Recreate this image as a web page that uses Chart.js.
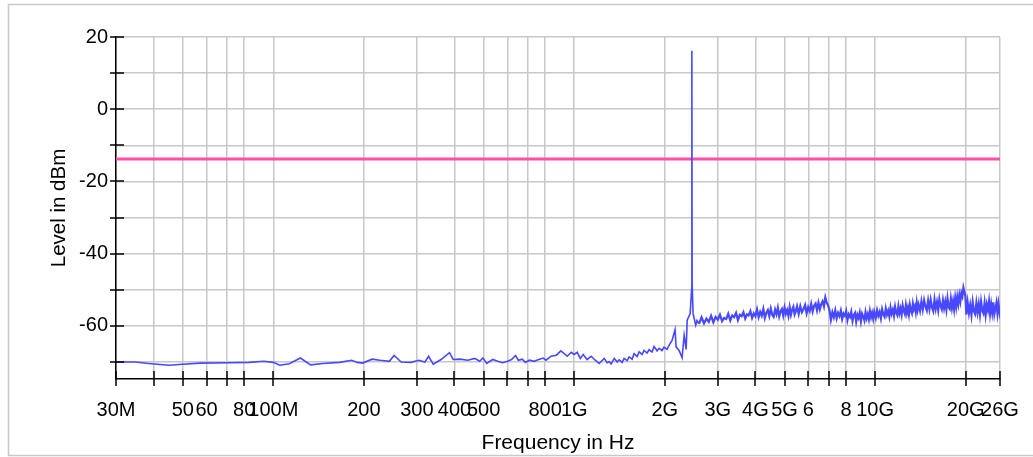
<!DOCTYPE html>
<html>
<head>
<meta charset="utf-8">
<script src="https://cdn.jsdelivr.net/npm/chart.js@4/dist/chart.umd.min.js"></script>
<style>
  html, body { margin: 0; padding: 0; background: #fff; }
  canvas { display: block; }
</style>
</head>
<body>
<canvas id="spectre" width="1033" height="457"></canvas>
<script>
// ── COULEURS ──────────────────────────────────────
const COULEURS = {
  trace:  '#4848ff',
  limite: '#ff4fa7',
  grille: '#c8c8c8',
  cadre:  '#c8c8c8',
  texte:  '#000000'
};
const POLICE = "'Liberation Sans', Arial, Helvetica, sans-serif";

// ── DONNÉES ───────────────────────────────────────
// Balayage bas : 30 MHz → 2,6 GHz (en MHz), avec la porteuse à ~2,46 GHz
const frequencesBasMHz = [
  30, 34.7, 38.5, 44.9, 50, 57, 72, 83, 93, 100, 105, 113, 123, 133, 146, 166, 182, 190, 198, 213,
  226, 243, 252, 266, 287, 304, 319, 328, 340, 361, 385, 396, 417, 443, 467, 485, 497, 512, 536, 557,
  578, 600, 619, 638, 652, 672, 688, 709, 736, 758, 788, 806, 837, 872, 903, 948, 977, 1000, 1023, 1047,
  1071, 1104, 1139, 1174, 1210,
  1258, 1287, 1307, 1327, 1358, 1389, 1410, 1443, 1465, 1499, 1522, 1557, 1581, 1618, 1643, 1681, 1706, 1746, 1773, 1814,
  1842, 1885, 1914, 1958, 1988, 2034, 2066, 2114, 2163, 2180, 2231, 2283, 2319, 2355, 2373, 2428, 2455, 2460, 2465, 2483,
  2534, 2558, 2598
];
const niveauxBasDbm = [
  -70.0, -70.0, -70.4, -70.9, -70.6, -70.3, -70.2, -70.1, -69.8, -70.1, -70.9, -70.5, -68.9, -70.8, -70.4, -70.1, -69.5, -70.1, -70.3, -69.2,
  -69.5, -69.8, -68.2, -70.0, -70.1, -69.5, -70.0, -68.4, -70.6, -69.3, -67.4, -69.3, -69.2, -69.5, -69.0, -69.8, -68.9, -70.4, -69.3, -69.8,
  -70.2, -69.8, -69.3, -68.2, -69.5, -69.2, -70.1, -69.5, -69.8, -69.4, -68.9, -69.5, -68.4, -68.1, -66.9, -68.4, -67.3, -67.9, -67.3, -69.0,
  -67.9, -69.3, -68.4, -69.5, -70.4,
  -69.0, -70.2, -69.9, -70.5, -69.0, -70.0, -69.4, -70.1, -69.0, -69.6, -68.6, -69.2, -67.7, -68.5, -67.2, -67.9, -66.8, -67.5, -66.6, -67.2,
  -65.7, -66.9, -66.2, -66.8, -65.9, -66.5, -65.4, -64.0, -61.0, -65.8, -66.8, -68.8, -62.6, -66.5, -58.4, -56.6, -50.0, 16.2, -48.0, -56.6,
  -59.8, -58.5, -59.4
];

// Balayage haut : 2,65 GHz → 26 GHz (en GHz), bruit de fond
const frequencesHautGHz = [
  2.65, 2.70, 2.75, 2.80, 2.85, 2.90, 2.95, 3.00, 3.05, 3.10, 3.15, 3.20, 3.25, 3.30, 3.35, 3.40, 3.45, 3.50, 3.55, 3.60,
  3.65, 3.70, 3.75, 3.80, 3.85, 3.90, 3.95, 4.00,
  4.05, 4.10, 4.15, 4.20, 4.25, 4.30, 4.35, 4.40, 4.45, 4.50, 4.55, 4.60, 4.65, 4.70, 4.75, 4.80, 4.85, 4.90, 4.95, 5.00,
  5.05, 5.10, 5.15, 5.20, 5.25, 5.30, 5.35, 5.40, 5.45, 5.50,
  5.57, 5.64, 5.71, 5.78, 5.85, 5.92, 5.99, 6.06, 6.13, 6.20, 6.27, 6.34, 6.41, 6.48, 6.55, 6.62, 6.69, 6.76, 6.83, 6.90, 6.97,
  7.05, 7.13, 7.21, 7.29, 7.37, 7.45, 7.53, 7.61, 7.69, 7.77, 7.85, 7.93, 8.01, 8.09, 8.17, 8.25, 8.33, 8.41, 8.49, 8.57,
  8.65, 8.73, 8.81, 8.89, 8.97, 9.05, 9.13, 9.21, 9.29, 9.37, 9.45, 9.53, 9.61, 9.69, 9.77, 9.85, 9.93,
  10.05, 10.15, 10.25, 10.35, 10.45, 10.55, 10.65, 10.75, 10.85, 10.95, 11.05, 11.15, 11.25, 11.35, 11.45, 11.55, 11.65, 11.75, 11.85, 11.95,
  12.05, 12.15, 12.25, 12.35, 12.45, 12.55, 12.65, 12.75, 12.85, 12.95, 13.05, 13.15, 13.25, 13.35, 13.45, 13.55, 13.65, 13.75, 13.85, 13.95,
  14.10, 14.25, 14.40, 14.55, 14.70, 14.85, 15.00, 15.15, 15.30, 15.45, 15.60, 15.75, 15.90, 16.05, 16.20, 16.35, 16.50, 16.65, 16.80, 16.95,
  17.10, 17.25, 17.40, 17.55, 17.70, 17.85, 18.00, 18.15, 18.30, 18.45, 18.60, 18.75, 18.90, 19.05, 19.20, 19.35, 19.50, 19.65, 19.80, 19.95,
  20.1, 20.3, 20.5, 20.7, 20.9, 21.1, 21.3, 21.5, 21.7, 21.9, 22.1, 22.3, 22.5, 22.7, 22.9, 23.1, 23.3, 23.5, 23.7, 23.9,
  24.1, 24.3, 24.5, 24.7, 24.9, 25.1, 25.3, 25.5, 25.7, 25.9, 26.0
];
const niveauxHautDbm = [
  -57.6, -59.3, -58.0, -58.9, -57.2, -59.0, -57.5, -58.3, -56.9, -58.7, -57.8, -58.1, -56.6, -58.5, -57.1, -57.6, -56.4, -58.4, -56.9, -57.3,
  -56.2, -58.0, -56.8, -57.1, -55.9, -57.8, -56.5, -57.3,
  -55.4, -57.6, -56.1, -57.2, -55.3, -57.8, -56.4, -55.6, -57.3, -55.2, -56.9, -57.5, -55.5, -56.8, -55.0, -57.4, -56.0, -55.3, -57.1, -54.9,
  -56.6, -55.6, -57.2, -54.8, -56.9, -55.5, -54.7, -56.8, -55.9, -54.6,
  -56.7, -54.5, -56.2, -55.3, -54.2, -56.5, -54.8, -55.9, -53.9, -56.0, -54.4, -53.8, -55.7, -53.6, -55.4, -54.0, -53.2, -54.6, -52.1, -53.5, -54.2,
  -55.6, -58.3, -56.2, -57.6, -55.7, -57.9, -56.4, -57.3, -55.8, -58.1, -56.6, -57.2, -55.9, -58.4, -56.8, -57.5, -56.1, -58.6, -57.0, -56.4,
  -58.8, -56.9, -57.8, -56.3, -58.7, -56.6, -57.4, -58.5, -56.2, -57.9, -56.8, -58.2, -55.9, -57.6, -56.4, -58.0, -56.1,
  -57.8, -55.7, -57.2, -56.1, -57.9, -55.4, -56.8, -57.5, -55.2, -56.9, -55.8, -57.4, -54.9, -56.6, -55.5, -57.2, -54.7, -56.3, -57.0, -54.6,
  -56.5, -55.2, -56.9, -54.4, -55.8, -56.7, -54.3, -56.4, -55.0, -56.8, -54.2, -55.7, -56.5, -53.9, -55.4, -54.6, -56.2, -53.6, -55.5, -54.1,
  -55.8, -53.2, -55.5, -52.9, -54.6, -55.7, -53.0, -55.3, -52.8, -54.9, -55.9, -52.7, -55.2, -53.4, -55.6, -52.6, -54.5, -55.4, -52.9, -55.1,
  -53.3, -55.5, -52.4, -54.8, -55.3, -52.5, -55.0, -53.1, -55.4, -52.3, -54.6, -52.0, -53.9, -51.5, -53.2, -50.9, -51.8, -49.4, -50.6, -51.7,
  -56.9, -53.5, -56.4, -54.2, -57.0, -53.4, -55.9, -56.7, -53.6, -56.2, -53.9, -56.8, -53.3, -55.7, -56.5, -53.7, -56.9, -54.1, -55.6, -53.2,
  -56.6, -54.0, -56.3, -53.5, -56.8, -55.2, -53.6, -56.5, -53.9, -56.1, -55.0
];

// Ligne limite (dBm)
const limiteDbm = -13.8;

// Graduations
const ticksXHz = [
  30e6, 40e6, 50e6, 60e6, 70e6, 80e6, 100e6, 200e6, 300e6, 400e6, 500e6, 600e6, 700e6, 800e6,
  1e9, 2e9, 3e9, 4e9, 5e9, 6e9, 7e9, 8e9, 10e9, 20e9, 26e9
];
const etiquettesX = [
  '30M', '', '50', '60', '', '80', '100M', '200', '300', '400', '500', '', '', '800',
  '1G', '2G', '3G', '4G', '5G', '6', '', '8', '10G', '20G', '26G'
];
const ticksYDbm   = [-70, -60, -50, -40, -30, -20, -10, 0, 10, 20];
const etiquettesY = ['', '-60', '', '-40', '', '-20', '', '0', '', '20'];

// ── CONSTRUCTION DES POINTS ───────────────────────
const pointsBas = frequencesBasMHz.map(function(f, i) {
  return { x: f * 1e6, y: niveauxBasDbm[i] };
});
// la partie haute repart du dernier point bas pour rester continue
const pointsHaut = [pointsBas[pointsBas.length - 1]].concat(frequencesHautGHz.map(function(f, i) {
  return { x: f * 1e9, y: niveauxHautDbm[i] };
}));
const pointsLimite = [
  { x: ticksXHz[0], y: limiteDbm },
  { x: ticksXHz[ticksXHz.length - 1], y: limiteDbm }
];

// ── PLUGIN : cadre + traits de graduation croisés ─
const cadreEtTraits = {
  id: 'cadreEtTraits',
  beforeDraw(chart) {
    const ctx = chart.ctx;
    ctx.save();
    ctx.strokeStyle = COULEURS.cadre;
    ctx.lineWidth = 1.5;
    ctx.strokeRect(8.5, 4.5, 1100, 451);
    ctx.restore();
  },
  afterDraw(chart) {
    const { ctx, chartArea, scales } = chart;
    ctx.save();
    ctx.strokeStyle = COULEURS.texte;
    ctx.lineWidth = 1.5;
    ctx.beginPath();
    ticksXHz.forEach(function(v) {
      const px = Math.round(scales.x.getPixelForValue(v));
      ctx.moveTo(px, chartArea.bottom - 8);
      ctx.lineTo(px, chartArea.bottom + 7);
    });
    ticksYDbm.forEach(function(v) {
      const py = Math.round(scales.y.getPixelForValue(v));
      ctx.moveTo(chartArea.left - 6, py);
      ctx.lineTo(chartArea.left + 8, py);
    });
    ctx.stroke();
    ctx.restore();
  }
};

// ── GRAPHIQUE ─────────────────────────────────────
new Chart(document.getElementById('spectre'), {
  type: 'line',
  data: {
    datasets: [
      {
        label: 'Trace basse',
        data: pointsBas,
        borderColor: COULEURS.trace,
        borderWidth: 1.6,
        pointRadius: 0,
        tension: 0,
        order: 0
      },
      {
        label: 'Trace haute',
        data: pointsHaut,
        borderColor: COULEURS.trace,
        borderWidth: 2.2,
        pointRadius: 0,
        tension: 0,
        order: 0
      },
      {
        label: 'Limite',
        data: pointsLimite,
        borderColor: COULEURS.limite,
        borderWidth: 3,
        pointRadius: 0,
        order: 1
      }
    ]
  },
  options: {
    responsive: false,
    animation: false,
    layout: { padding: { top: 37, right: 33, left: 0, bottom: 0 } },
    plugins: {
      legend: { display: false },
      tooltip: { enabled: false }
    },
    scales: {
      x: {
        type: 'logarithmic',
        min: 30e6,
        max: 26e9,
        afterBuildTicks: function(s) { s.ticks = ticksXHz.map(function(v) { return { value: v }; }); },
        afterFit: function(s) { s.height = 78; s.paddingLeft = 0; s.paddingRight = 0; },
        ticks: {
          autoSkip: false, maxRotation: 0, minRotation: 0, padding: 19,
          color: COULEURS.texte, font: { family: POLICE, size: 20 },
          callback: function(v, i) { return etiquettesX[i]; }
        },
        grid: { color: COULEURS.grille, lineWidth: 1.5, drawTicks: false },
        border: { display: true, color: COULEURS.texte, width: 1.5 },
        title: {
          display: true, text: 'Frequency in Hz', color: COULEURS.texte,
          font: { family: POLICE, size: 21 }, padding: { top: 0, bottom: 1 }
        }
      },
      y: {
        type: 'linear',
        min: -74.7,
        max: 20,
        afterBuildTicks: function(s) { s.ticks = ticksYDbm.map(function(v) { return { value: v }; }); },
        afterFit: function(s) { s.width = 116; s.paddingTop = 0; s.paddingBottom = 0; },
        ticks: {
          padding: 8,
          color: COULEURS.texte, font: { family: POLICE, size: 20 },
          callback: function(v, i) { return etiquettesY[i]; }
        },
        grid: { color: COULEURS.grille, lineWidth: 1.5, drawTicks: false },
        border: { display: true, color: COULEURS.texte, width: 1.5 },
        title: {
          display: true, text: 'Level in dBm', color: COULEURS.texte,
          font: { family: POLICE, size: 20.5 }, padding: { top: 47, bottom: 0 }
        }
      }
    }
  },
  plugins: [cadreEtTraits]
});
</script>
</body>
</html>
